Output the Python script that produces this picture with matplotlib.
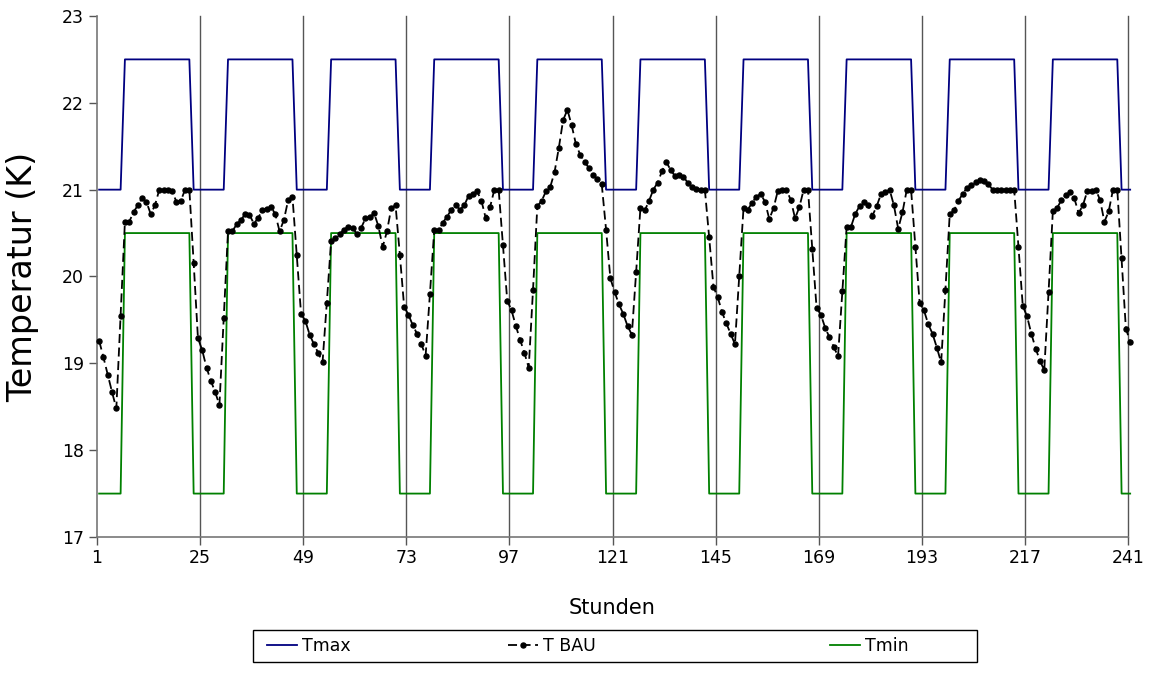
# Temperaturverlauf ueber 10 Tage: Sollbereich (Tmin/Tmax) und gemessene Temperatur T BAU

import numpy as np
import matplotlib.pyplot as plt
from matplotlib.patches import Rectangle

# --- Daten ---
hours = np.arange(1, 242)

# Tagesprofil der Grenzwerte (jeder Tag gleich, 24 Stunden)
tmax_day = [21.0] * 6 + [22.5] * 16 + [21.0] * 2
tmin_day = [17.5] * 6 + [20.5] * 16 + [17.5] * 2
tmax = tmax_day * 10 + [21.0]
tmin = tmin_day * 10 + [17.5]

# T BAU, Stunde 1..241
t_bau = [
    19.26, 19.07, 18.87, 18.67, 18.48, 19.55, 20.63, 20.63, 20.74, 20.82,
    20.90, 20.86, 20.72, 20.82, 21.00, 21.00, 21.00, 20.98, 20.86, 20.87,
    21.00, 21.00, 20.16, 19.29, 19.15, 18.95, 18.80, 18.67, 18.52, 19.52,
    20.52, 20.52, 20.60, 20.65, 20.72, 20.71, 20.61, 20.67, 20.77, 20.78,
    20.80, 20.72, 20.52, 20.65, 20.88, 20.92, 20.25, 19.57, 19.49, 19.33,
    19.22, 19.12, 19.01, 19.70, 20.41, 20.44, 20.49, 20.54, 20.57, 20.56,
    20.49, 20.56, 20.67, 20.68, 20.73, 20.58, 20.34, 20.52, 20.79, 20.82,
    20.25, 19.65, 19.56, 19.44, 19.34, 19.22, 19.09, 19.80, 20.53, 20.53,
    20.62, 20.69, 20.77, 20.82, 20.77, 20.82, 20.93, 20.95, 20.98, 20.87,
    20.67, 20.80, 21.00, 21.00, 20.36, 19.72, 19.61, 19.43, 19.27, 19.12,
    18.95, 19.85, 20.81, 20.87, 20.98, 21.03, 21.20, 21.48, 21.80, 21.92,
    21.74, 21.52, 21.40, 21.32, 21.25, 21.17, 21.12, 21.06, 20.54, 19.98,
    19.82, 19.68, 19.57, 19.43, 19.33, 20.05, 20.79, 20.76, 20.87, 21.00,
    21.08, 21.21, 21.32, 21.23, 21.16, 21.17, 21.15, 21.08, 21.03, 21.01,
    21.00, 21.00, 20.45, 19.88, 19.76, 19.59, 19.46, 19.34, 19.22, 20.00,
    20.79, 20.77, 20.85, 20.92, 20.95, 20.86, 20.66, 20.79, 20.99, 21.00,
    21.00, 20.88, 20.67, 20.80, 21.00, 21.00, 20.32, 19.64, 19.56, 19.41,
    19.30, 19.19, 19.08, 19.83, 20.57, 20.57, 20.72, 20.81, 20.86, 20.82,
    20.70, 20.81, 20.95, 20.97, 21.00, 20.82, 20.55, 20.74, 21.00, 21.00,
    20.34, 19.69, 19.61, 19.45, 19.34, 19.18, 19.01, 19.85, 20.72, 20.76,
    20.87, 20.95, 21.02, 21.05, 21.09, 21.11, 21.10, 21.06, 21.00, 21.00,
    21.00, 21.00, 21.00, 21.00, 20.34, 19.66, 19.54, 19.34, 19.17, 19.03,
    18.92, 19.82, 20.75, 20.79, 20.88, 20.94, 20.97, 20.90, 20.73, 20.82,
    20.98, 20.99, 21.00, 20.88, 20.63, 20.75, 21.00, 21.00, 20.21, 19.40,
    19.25,
]

x_ticks = list(range(1, 242, 24))
y_ticks = [17, 18, 19, 20, 21, 22, 23]

# Kategorien liegen zwischen den Teilstrichen (halbe Stunde versetzt)
x_pos = hours + 0.5

# --- Plot ---
fig = plt.figure(figsize=(11.56, 6.77), dpi=100)
ax = fig.add_axes([0.0839, 0.2068, 0.8919, 0.7696])

l_max, = ax.plot(x_pos, tmax, color='#000080', lw=1.3, clip_on=False, zorder=3)
l_bau, = ax.plot(x_pos, t_bau, color='black', lw=1.3, ls=(0, (5, 2.5)), marker='o',
                 markersize=3.6, clip_on=False, zorder=4)
l_min, = ax.plot(x_pos, tmin, color='#008000', lw=1.3, clip_on=False, zorder=3)

ax.set_xlim(1, 241)
ax.set_ylim(17, 23)
ax.set_xticks(x_ticks)
ax.set_yticks(y_ticks)
ax.tick_params(labelsize=12.5, length=6, width=1, color='#555555')
ax.tick_params(axis='x', pad=3)

# nur vertikale Gitterlinien
for xv in x_ticks[1:]:
    ax.axvline(xv, color='#555555', lw=1, zorder=1, clip_on=False)

for side in ['top', 'right']:
    ax.spines[side].set_visible(False)
for side in ['left', 'bottom']:
    ax.spines[side].set_color('#777777')
    ax.spines[side].set_linewidth(1.2)

ax.set_xlabel('Stunden', fontsize=15, labelpad=22)
ax.set_ylabel('Temperatur (K)', fontsize=24, labelpad=16)

# Legende: Rahmen und drei Eintraege einzeln platziert
W, H = 1156, 677
fig.patches.append(Rectangle((253 / W, 1 - 662 / H), 724 / W, 32 / H,
                             transform=fig.transFigure, fill=False,
                             edgecolor='black', lw=1))
for handle, name, x0 in [(l_max, 'Tmax', 267), (l_bau, 'T BAU', 508), (l_min, 'Tmin', 830)]:
    lg = fig.legend([handle], [name], loc='center left',
                    bbox_to_anchor=(x0 / W, 1 - 646 / H), frameon=False,
                    fontsize=12.5, handlelength=1.75, handletextpad=0.25,
                    borderpad=0, borderaxespad=0)

plt.savefig('out.png', dpi=100)
